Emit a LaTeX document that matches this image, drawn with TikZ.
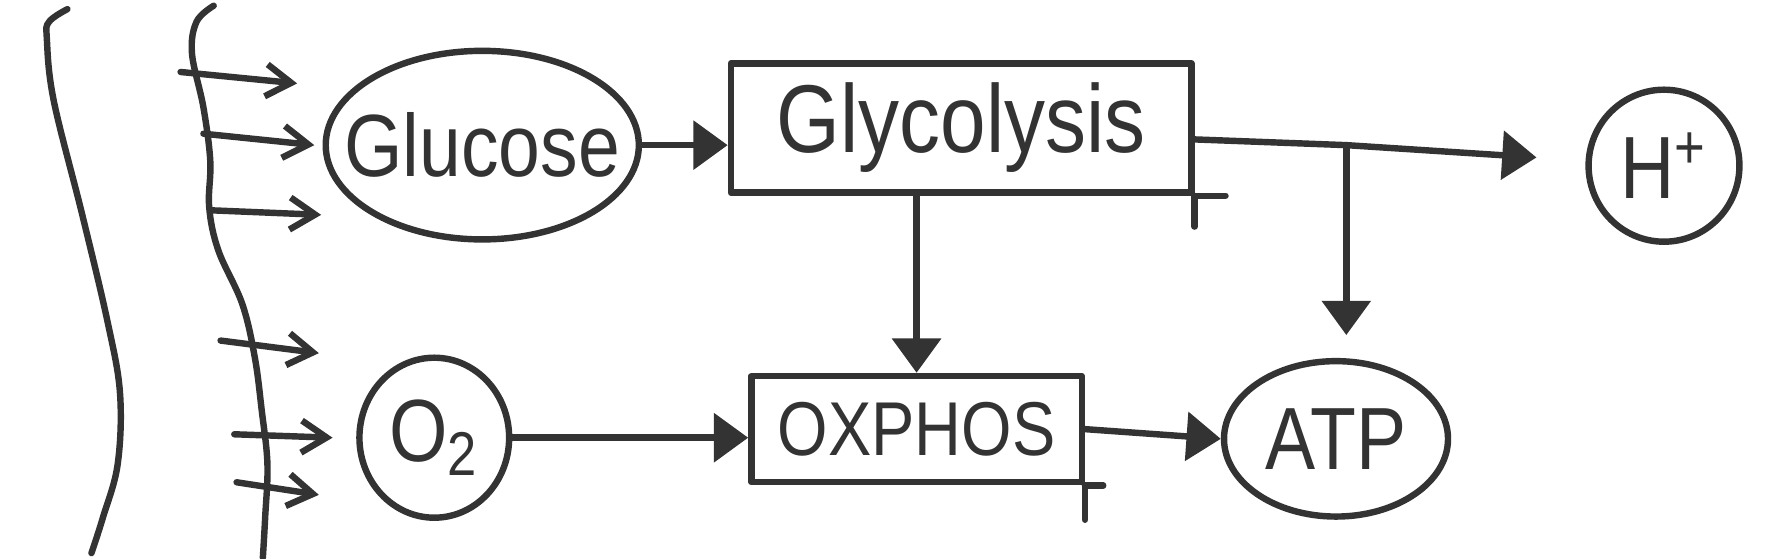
\documentclass[tikz,border=0pt]{standalone}
\usepackage{fontspec}
\newfontfamily\handfont[FakeStretch=0.85]{Liberation Sans}
\usepackage{tikz}
\usetikzlibrary{arrows.meta, shapes, positioning, calc}
\definecolor{inkgray}{rgb}{0.2, 0.2, 0.2}

\begin{document}
\begin{tikzpicture}[line width=1.6pt, color=inkgray, line cap=round, line join=round]
			\useasboundingbox (0,0) rectangle (15.68,-4.89);
			\tikzstyle{blob}=[ellipse, draw, inner sep=0pt, font=\handfont\fontsize{22}{26}\selectfont]
			\tikzstyle{procbox}=[rectangle, draw, inner sep=0pt, font=\handfont\fontsize{22}{26}\selectfont]
			\tikzstyle{arr}=[-{Triangle[length=3mm, width=4.2mm]}]
			\tikzstyle{inflow}=[-{Straight Barb[length=2.2mm, width=2.8mm]}]
			%% outer bracket and membrane
			\draw plot[smooth, tension=0.6] coordinates {(0.59,-0.08) (0.43,-0.19) (0.41,-0.34) (0.47,-0.88) (0.72,-1.88) (0.94,-2.81) (1.05,-3.44) (1.03,-4.06) (0.90,-4.53) (0.80,-4.84)};
			\draw plot[smooth, tension=0.6] coordinates {(1.87,-0.05) (1.72,-0.19) (1.68,-0.47) (1.78,-0.94) (1.84,-1.41) (1.83,-1.81) (1.91,-2.19) (2.12,-2.66) (2.23,-3.13) (2.29,-3.59) (2.34,-4.06) (2.32,-4.53) (2.30,-4.88)};
			%% uptake
			\foreach \sx/\sy/\ex/\ey in {1.58/-0.63/2.60/-0.73, 1.78/-1.17/2.75/-1.27, 1.84/-1.84/2.81/-1.88, 1.93/-2.98/2.79/-3.09, 2.05/-3.80/2.91/-3.83, 2.07/-4.22/2.79/-4.33}
				\draw [inflow] (\sx,\sy) -- (\ex,\ey);
			%%
			\node (glc) at (4.22,-1.27) [blob, inner xsep=-2.4mm, minimum width=2.74cm, minimum height=1.65cm] {Glucose};
			\node (gly) at (8.41,-1.12) [procbox, minimum width=4.03cm, minimum height=1.13cm, font=\handfont\fontsize{24}{28}\selectfont] {Glycolysis};
			\node (hp) at (14.56,-1.45) [blob, minimum width=1.32cm, minimum height=1.33cm] {H\textsuperscript{+}};
			\node (o2) at (3.80,-3.83) [blob, minimum width=1.31cm, minimum height=1.40cm] {O\textsubscript{2}};
			\node (oxp) at (8.02,-3.755) [procbox, minimum width=2.89cm, minimum height=0.93cm, font=\handfont\fontsize{19}{23}\selectfont] {OXPHOS};
			\node (atp) at (11.69,-3.84) [blob, minimum width=1.96cm, minimum height=1.36cm] {ATP};
			
			%% crossed corners
			\draw (gly.south east) -- ++(0,-0.27);
			\draw (gly.south east) -- ++(0.27,0);
			\draw (oxp.south east) -- ++(0,-0.30);
			\draw (oxp.south east) -- ++(0.16,0);
			
			\coordinate (split) at (11.78,-1.27);
			
			\draw [arr] (glc.east) -- (glc.east -| gly.west);
			\draw [arr] (oxp.north |- gly.south) -- (oxp.north);
			\draw [arr, shorten >=4.3mm] ([yshift=-1mm]gly.east) -- (split) -- (hp);
			\draw [arr, shorten >=2mm] (split) -- (split |- atp.north);
			\draw [arr] (o2.east) -- (o2.east -| oxp.west);
			\draw [arr] (oxp.east) -- (atp.west);
\end{tikzpicture}
\end{document}
